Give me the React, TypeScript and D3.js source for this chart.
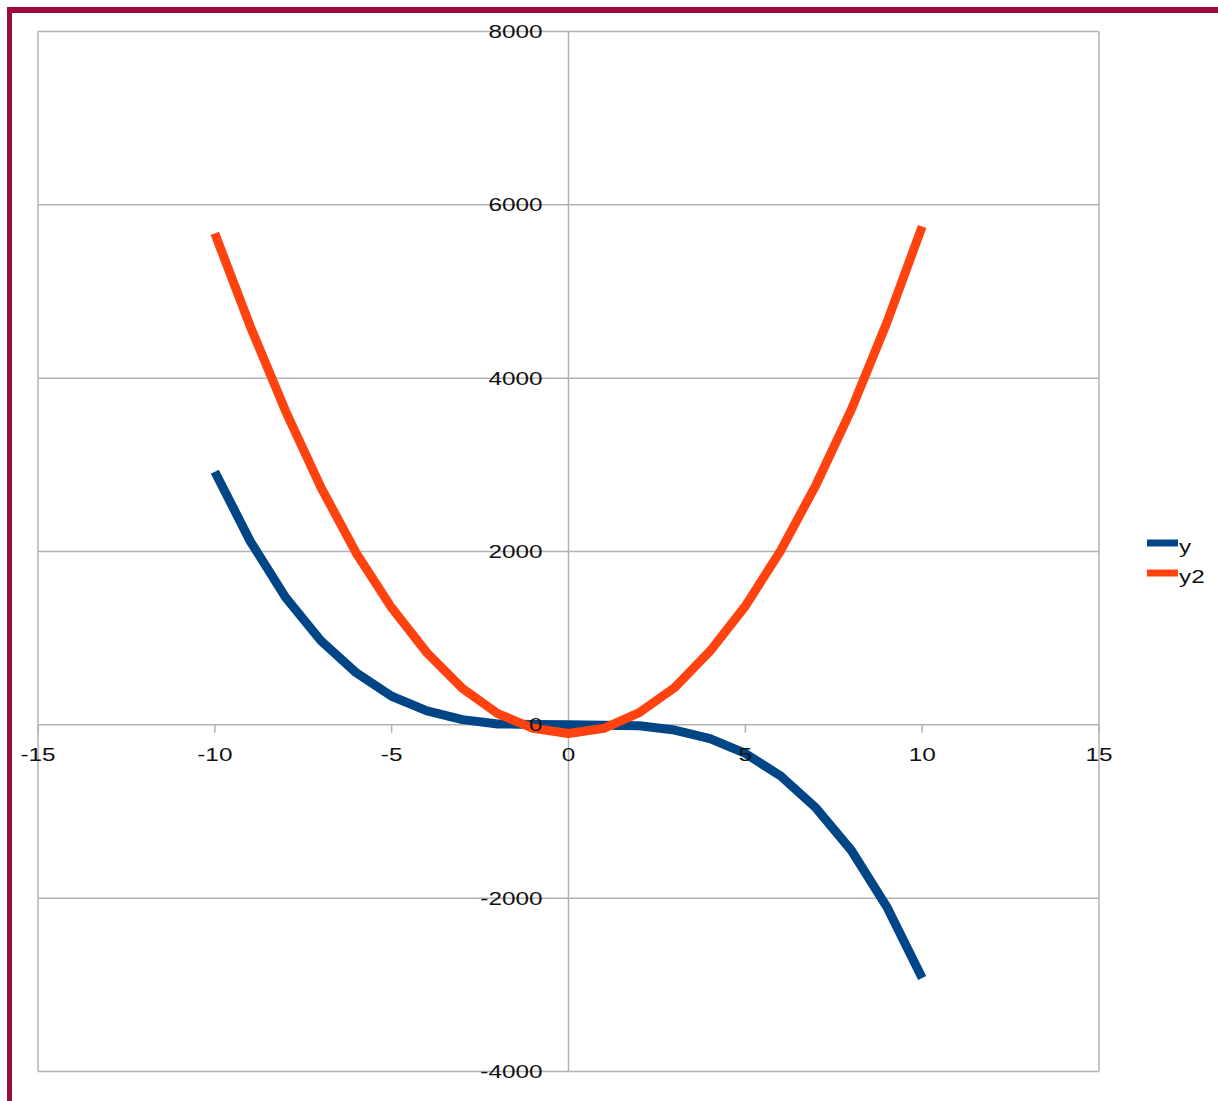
import React from "react";
import * as d3 from "d3";

const xs = [-10, -9, -8, -7, -6, -5, -4, -3, -2, -1, 0, 1, 2, 3, 4, 5, 6, 7, 8, 9, 10];
const ySeries = [2920, 2120, 1470, 970, 600, 330, 160, 60, 10, 5, 0, -5, -10, -60, -160, -330, -590, -960, -1450, -2100, -2920];
const y2Series = [5670, 4600, 3620, 2740, 1980, 1350, 830, 420, 130, -40, -100, -40, 140, 430, 850, 1370, 2010, 2770, 3640, 4640, 5750];
const xTicks = [-15, -10, -5, 0, 5, 10, 15];
const yTicks = [-4000, -2000, 0, 2000, 4000, 6000, 8000];
const seriesNames = ["y", "y2"];
const seriesColors = ["#004586", "#ff420e"];

const W = 1218;
const H = 1101;
const FONT = "'Liberation Sans', Arial, sans-serif";
const SX = 1.28;

export default function App() {
  const x = d3.scaleLinear().domain([-15, 15]).range([38, 1099]);
  const y = d3.scaleLinear().domain([-4000, 8000]).range([1071.5, 31.5]);
  const line = d3
    .line<[number, number]>()
    .x((d) => x(d[0]))
    .y((d) => y(d[1]));
  const data = [ySeries, y2Series].map((s) => xs.map((v, i) => [v, s[i]] as [number, number]));
  const grid = "#b3b3b3";

  return (
    <svg
      width={W}
      height={H}
      style={{ position: "absolute", left: 0, top: 0, background: "#fff" }}
      fontFamily={FONT}
    >
      <rect x={0} y={0} width={W} height={H} fill="#fff" />
      {/* frame border */}
      <line x1={7} x2={W} y1={10} y2={10} stroke="#9e0a3c" strokeWidth={6} />
      <line x1={9.5} x2={9.5} y1={7} y2={H} stroke="#9e0a3c" strokeWidth={5} />

      {/* horizontal grid */}
      {yTicks.map((t) => (
        <line key={"g" + t} x1={x(-15)} x2={x(15)} y1={y(t)} y2={y(t)} stroke={grid} strokeWidth={1.5} />
      ))}
      {/* vertical frame lines and y axis */}
      {[-15, 0, 15].map((t) => (
        <line key={"v" + t} x1={x(t)} x2={x(t)} y1={y(8000)} y2={y(-4000)} stroke={grid} strokeWidth={1.5} />
      ))}
      {/* x ticks */}
      {xTicks.map((t) => (
        <line key={"t" + t} x1={x(t)} x2={x(t)} y1={y(0)} y2={y(0) + 8} stroke={grid} strokeWidth={1.5} />
      ))}

      {/* series */}
      {data.map((d, i) => (
        <path
          key={seriesNames[i]}
          d={line(d) || ""}
          fill="none"
          stroke={seriesColors[i]}
          strokeWidth={9}
          strokeLinejoin="round"
        />
      ))}

      {/* y labels */}
      {yTicks.map((t) => (
        <g key={"yl" + t} transform={`translate(${x(0) - 26},${y(t)}) scale(${SX},1)`}>
          <text textAnchor="end" dominantBaseline="central" fontSize={19} fill="#111">
            {t}
          </text>
        </g>
      ))}
      {/* x labels */}
      {xTicks.map((t) => (
        <g key={"xl" + t} transform={`translate(${x(t)},${y(0) + 30}) scale(${SX},1)`}>
          <text textAnchor="middle" dominantBaseline="central" fontSize={19} fill="#111">
            {t}
          </text>
        </g>
      ))}

      {/* legend */}
      {seriesNames.map((n, i) => (
        <g key={"lg" + n} transform={`translate(1147,${543 + i * 30})`}>
          <line x1={0} x2={31} y1={0} y2={0} stroke={seriesColors[i]} strokeWidth={7} />
          <g transform={`translate(32,3) scale(${SX},1)`}>
            <text dominantBaseline="central" fontSize={19} fill="#111">
              {n}
            </text>
          </g>
        </g>
      ))}
    </svg>
  );
}
